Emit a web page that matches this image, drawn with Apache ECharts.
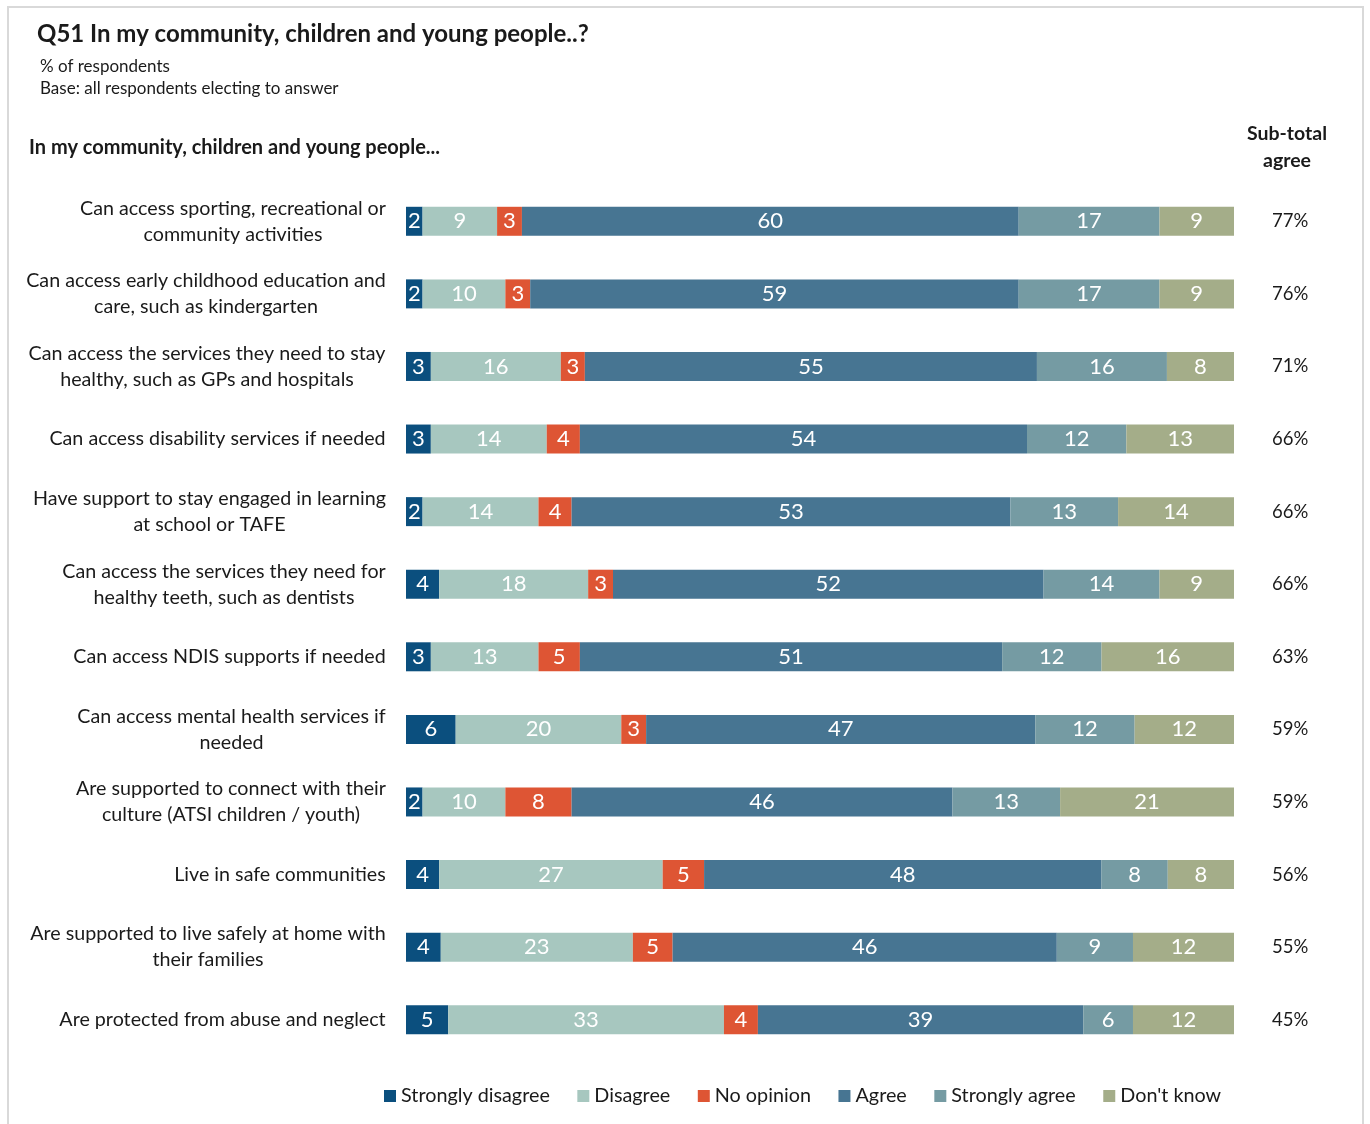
<!DOCTYPE html>
<html>
<head>
<meta charset="utf-8">
<script src="https://cdn.jsdelivr.net/npm/echarts@6/dist/echarts.min.js"></script>
<style>html,body{margin:0;padding:0;background:#fff;}#c{width:1370px;height:1124px;}</style>
</head>
<body>
<div id="c"></div>
<script>
const categories = [
  "Can access sporting, recreational or\ncommunity activities",
  "Can access early childhood education and\ncare, such as kindergarten",
  "Can access the services they need to stay\nhealthy, such as GPs and hospitals",
  "Can access disability services if needed",
  "Have support to stay engaged in learning\nat school or TAFE",
  "Can access the services they need for\nhealthy teeth, such as dentists",
  "Can access NDIS supports if needed",
  "Can access mental health services if\nneeded",
  "Are supported to connect with their\nculture (ATSI children / youth)",
  "Live in safe communities",
  "Are supported to live safely at home with\ntheir families",
  "Are protected from abuse and neglect"
];
const seriesNames = ["Strongly disagree", "Disagree", "No opinion", "Agree", "Strongly agree", "Don't know"];
const stronglyDisagree = [2, 2, 3.0, 3, 2, 4, 3, 6, 2, 4, 4.2, 5.1];
const disagree         = [9, 10, 15.7, 14, 14, 18, 13, 20, 10, 27, 23.2, 33.3];
const noOpinion        = [3, 3, 2.9, 4, 4, 3, 5, 3, 8, 5, 4.8, 4.1];
const agree            = [60, 59, 54.6, 54, 53, 52, 51, 47, 46, 48, 46.4, 39.3];
const stronglyAgree    = [17, 17, 15.7, 12, 13, 14, 12, 12, 13, 8, 9.2, 6.0];
const dontKnow         = [9, 9, 8.1, 13, 14, 9, 16, 12, 21, 8, 12.2, 12.2];
const subtotalAgree    = [77, 76, 71, 66, 66, 66, 63, 59, 59, 56, 55, 45];
const colors = ["#0b4f7e", "#a7c7bf", "#de5534", "#477592", "#759ba3", "#a4ad89"];

const values = [stronglyDisagree, disagree, noOpinion, agree, stronglyAgree, dontKnow];
const FONT = "Lato";
const CAT_SIZE = 19.7;

// measure each label's widest line so lines can be centred within a right-aligned block
const cv = document.createElement('canvas').getContext('2d');
cv.font = CAT_SIZE + 'px ' + FONT;
const rich = {};
categories.forEach((c, i) => {
  const w = Math.max(...c.split('\n').map(l => cv.measureText(l).width));
  rich['c' + i] = {width: Math.ceil(w), align: 'center', fontSize: CAT_SIZE, lineHeight: 26, color: '#1a1a1a', fontFamily: FONT};
});

const chart = echarts.init(document.getElementById('c'), null, {renderer: 'canvas'});
chart.setOption({
  backgroundColor: '#fff',
  animation: false,
  textStyle: {fontFamily: FONT},
  graphic: [
    {type: 'rect', shape: {x: 8, y: 7, width: 1355, height: 1130}, style: {fill: 'none', stroke: '#d9d9d9', lineWidth: 2}},
    {type: 'text', left: 37, top: 22, style: {text: 'Q51 In my community, children and young people..?', font: 'bold 24px ' + FONT, fill: '#1a1a1a'}},
    {type: 'text', left: 40, top: 58, style: {text: '% of respondents', font: '17px ' + FONT, fill: '#1a1a1a'}},
    {type: 'text', left: 40, top: 80, style: {text: 'Base: all respondents electing to answer', font: '17px ' + FONT, fill: '#1a1a1a'}},
    {type: 'text', left: 29, top: 138, style: {text: 'In my community, children and young people...', font: 'bold 20px ' + FONT, fill: '#1a1a1a'}},
    {type: 'text', x: 1287, y: 120, style: {text: 'Sub-total\nagree', font: 'bold 19.5px ' + FONT, fill: '#1a1a1a', align: 'center', lineHeight: 27}}
  ],
  legend: {
    bottom: 18,
    left: 384,
    padding: 0,
    itemWidth: 12,
    itemHeight: 12,
    itemGap: 27.5,
    icon: 'rect',
    textStyle: {fontSize: 19.8, color: '#1a1a1a', fontFamily: FONT},
    data: seriesNames
  },
  grid: {left: 406, right: 136, top: 185, bottom: 68, containLabel: false},
  xAxis: {type: 'value', min: 0, max: 100, show: false},
  yAxis: [
    {
      type: 'category', inverse: true, data: categories,
      axisLine: {show: false}, axisTick: {show: false},
      axisLabel: {margin: 20, align: 'right', rich: rich,
        formatter: (v, i) => v.split('\n').map(l => '{c' + i + '|' + l + '}').join('\n')}
    },
    {
      type: 'category', inverse: true, position: 'right', data: subtotalAgree,
      axisLine: {show: false}, axisTick: {show: false},
      axisLabel: {fontSize: 18.5, color: '#1a1a1a', margin: 38, align: 'left', fontFamily: FONT,
        formatter: v => v + '%'}
    }
  ],
  series: seriesNames.map((name, i) => ({
    name: name,
    type: 'bar',
    stack: 'total',
    barWidth: 29,
    itemStyle: {color: colors[i]},
    label: {show: true, position: 'inside', color: '#fff', fontSize: 22, fontFamily: FONT,
      formatter: p => Math.round(p.value)},
    data: values[i]
  }))
});
</script>
</body>
</html>
